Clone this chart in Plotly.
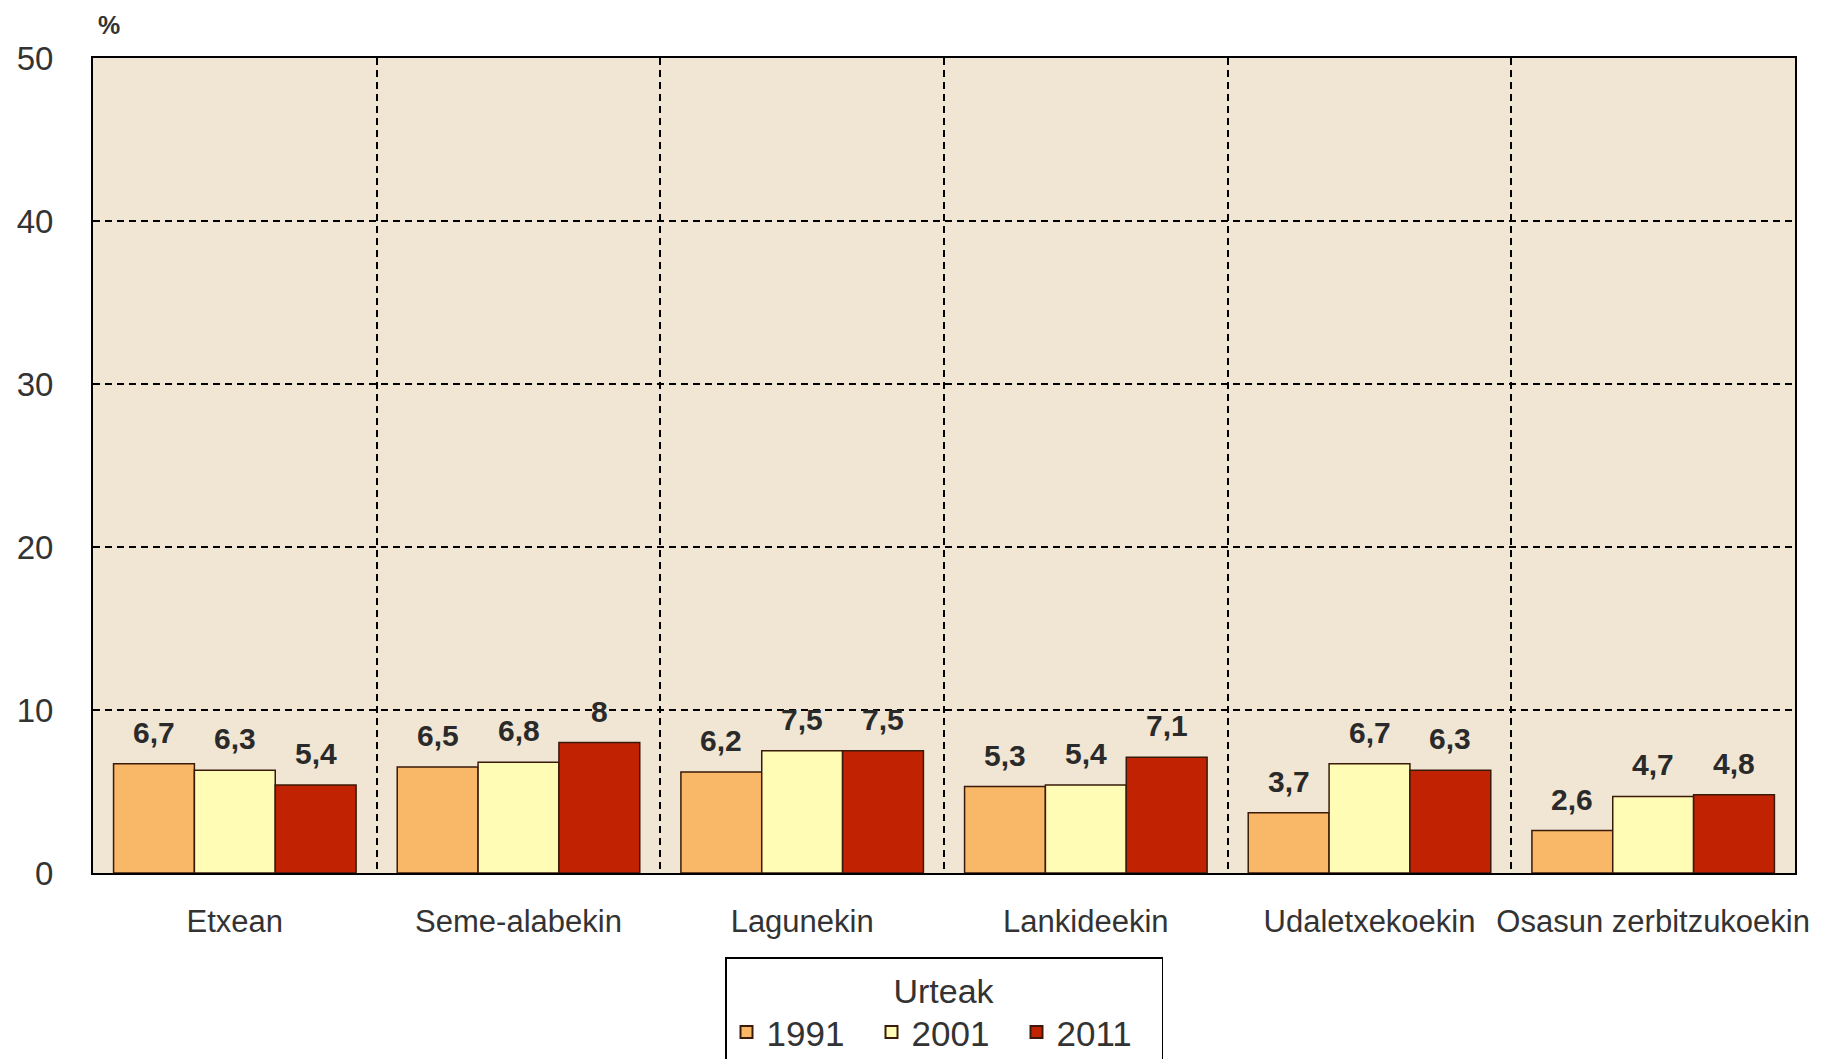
import plotly.graph_objects as go

categories = ["Etxean", "Seme-alabekin", "Lagunekin", "Lankideekin", "Udaletxekoekin", "Osasun zerbitzukoekin"]
years = ["1991", "2001", "2011"]
v1991 = [6.7, 6.5, 6.2, 5.3, 3.7, 2.6]
v2001 = [6.3, 6.8, 7.5, 5.4, 6.7, 4.7]
v2011 = [5.4, 8.0, 7.5, 7.1, 6.3, 4.8]
y_ticks = [0, 10, 20, 30, 40, 50]

series = [v1991, v2001, v2011]
colors = ["#F9B867", "#FFFDB5", "#C02202"]

def fmt(v):
    s = ("%g" % v)
    return s.replace(".", ",")

W, H = 1835, 1059
# page body has an 8px margin; compensate so the plot lands where it does in the reference
ml, mr, mt, mb = 85, 48, 50, 194
bargap = 0.145
FONT = "Liberation Sans, Arial, Helvetica"

fig = go.Figure()
for name, vals, col in zip(years, series, colors):
    fig.add_trace(go.Bar(
        x=categories, y=vals, name=name,
        marker=dict(color=col, line=dict(color="#3A1A0A", width=1.5)),
    ))

plot_w = W - ml - mr
plot_h = H - mt - mb
bar_w = plot_w / len(categories) * (1 - bargap) / 3
annotations = []
for i, vals in enumerate(series):
    for c, v in zip(categories, vals):
        annotations.append(dict(
            x=c, y=v, xref="x", yref="y", text="<b>" + fmt(v) + "</b>",
            showarrow=False, yanchor="bottom", xanchor="center",
            xshift=(i - 1) * bar_w, yshift=13,
            font=dict(family=FONT, size=30, color="#2a2a2a"),
        ))
annotations.append(dict(
    xref="paper", yref="paper", x=(101 - ml) / plot_w, y=1 + (mt - 17) / plot_h,
    text="<b>%</b>", showarrow=False, xanchor="center", yanchor="middle",
    font=dict(family=FONT, size=25, color="#333333"),
))

fig.update_layout(
    width=W, height=H,
    margin=dict(l=ml, r=mr, t=mt, b=mb, autoexpand=False),
    paper_bgcolor="white",
    plot_bgcolor="#F0E6D3",
    barmode="group", bargap=bargap, bargroupgap=0,
    font=dict(family=FONT, size=30, color="#333333"),
    annotations=annotations,
    showlegend=True,
    legend=dict(
        orientation="h", x=0.5, xanchor="center",
        y=-(949 - (H - mb)) / plot_h, yanchor="top",
        bgcolor="white", bordercolor="black", borderwidth=1.5,
        title=dict(text="Urteak", side="top center", font=dict(size=34)),
        font=dict(size=35),
        entrywidth=100,
        itemsizing="constant",
    ),
)
fig.update_xaxes(
    type="category", tickson="boundaries", tickangle=0, automargin=False,
    showgrid=True, gridcolor="black", gridwidth=1.5, griddash="7px,5px",
    showline=True, linecolor="black", linewidth=2, mirror=True,
    ticks="", ticklabelstandoff=20,
    tickfont=dict(size=31),
)
fig.update_yaxes(
    range=[0, 50], tickvals=y_ticks, ticktext=[str(t) for t in y_ticks], automargin=False,
    showgrid=True, gridcolor="black", gridwidth=1.5, griddash="7px,5px",
    showline=True, linecolor="black", linewidth=2, mirror=True,
    zeroline=False, ticks="", ticklabelstandoff=31,
    tickfont=dict(size=33),
)
fig.write_html("out.html")
